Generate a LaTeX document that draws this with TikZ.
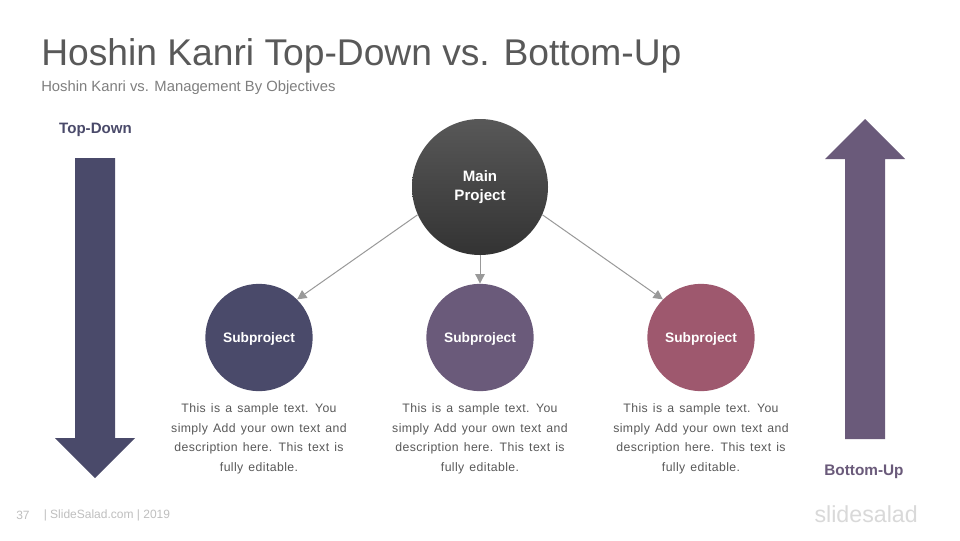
\documentclass[tikz,border=0pt]{standalone}
\usepackage{fontspec}
\setmainfont{Liberation Sans}
\newfontfamily\bodyfont[LetterSpace=3.2,WordSpace=1.35]{Liberation Sans}
\usetikzlibrary{arrows.meta,shadings}
\definecolor{navy}{HTML}{4A4A6A}
\definecolor{plum}{HTML}{6A5A7A}
\definecolor{rose}{HTML}{9E586E}
\definecolor{titlegray}{HTML}{595959}
\definecolor{subgray}{HTML}{7F7F7F}
\definecolor{bodygray}{HTML}{595959}
\definecolor{footgray}{HTML}{BFBFBF}
\definecolor{logogray}{HTML}{D9D9D9}
\definecolor{linkgray}{HTML}{999999}
\definecolor{topdark}{HTML}{585858}
\definecolor{botdark}{HTML}{333333}
\tikzset{
  x=0.75pt,y=-0.75pt,
  subcirc/.style={circle,minimum size=80.5pt,inner sep=0pt,text=white,font=\bfseries\fontsize{10.3}{13}\selectfont},
  bodytext/.style={align=center,text=bodygray,font=\bodyfont\fontsize{9.2}{14.6}\selectfont,inner sep=0pt},
  link/.style={draw=linkgray,line width=0.75pt,-{Triangle[length=7pt,width=7pt]}},
}
\begin{document}
\begin{tikzpicture}
\useasboundingbox (0,0) rectangle (960,540);
\fill[white] (0,0) rectangle (960,540);
\node[anchor=west,inner sep=0pt,text=titlegray,font=\fontsize{27.9}{32}\selectfont] (title) at (41,56) {Hoshin Kanri Top-Down vs. Bottom-Up};
\node[anchor=west,inner sep=0pt,text=subgray,font=\fontsize{11.1}{13}\selectfont] (subtitle) at (41,88) {Hoshin Kanri vs. Management By Objectives};
\node[inner sep=0pt,text=navy,font=\bfseries\fontsize{11.3}{13}\selectfont] (tdl) at (95.5,130) {Top-Down};
\node[inner sep=0pt,text=plum,font=\bfseries\fontsize{11.5}{13}\selectfont] (bul) at (864,472) {Bottom-Up};
\fill[navy] (75,158) -- (115,158) -- (115,438) -- (135,438) -- (95,478) -- (55,438) -- (75,438) -- cycle;
\fill[plum] (845,439) -- (885,439) -- (885,159) -- (905,159) -- (865,119) -- (825,159) -- (845,159) -- cycle;
\node[circle,minimum size=102pt,inner sep=0pt,top color=topdark,bottom color=botdark,text=white,align=center,font=\bfseries\fontsize{11.3}{14.3}\selectfont] (main) at (480,187) {Main\\Project};
\node[subcirc,fill=navy] (s1) at (259,337.5) {\raisebox{-1.1pt}[\height][\depth]{Subproject}};
\node[subcirc,fill=plum] (s2) at (480,337.5) {\raisebox{-1.1pt}[\height][\depth]{Subproject}};
\node[subcirc,fill=rose] (s3) at (701,337.5) {\raisebox{-1.1pt}[\height][\depth]{Subproject}};
\draw[link] (main.204.4) -- (s1.45);
\draw[link] (main.south) -- (s2.north);
\draw[link] (main.-24.4) -- (s3.135);
\node[bodytext] (t1) at (259,439) {This is a sample text. You\\simply Add your own text and\\description here. This text is\\fully editable.};
\node[bodytext] (t2) at (480,439) {This is a sample text. You\\simply Add your own text and\\description here. This text is\\fully editable.};
\node[bodytext] (t3) at (701,439) {This is a sample text. You\\simply Add your own text and\\description here. This text is\\fully editable.};
\node[anchor=west,inner sep=0pt,text=footgray,font=\fontsize{9}{11}\selectfont] (pg) at (16,515) {37};
\node[anchor=west,inner sep=0pt,text=footgray,font=\fontsize{9}{11}\selectfont] (ft) at (43.5,515) {| SlideSalad.com | 2019};
\node[anchor=east,inner sep=0pt,text=logogray,font=\fontsize{17.4}{20}\selectfont] (logo) at (918,514.5) {slidesalad};
\end{tikzpicture}
\end{document}
